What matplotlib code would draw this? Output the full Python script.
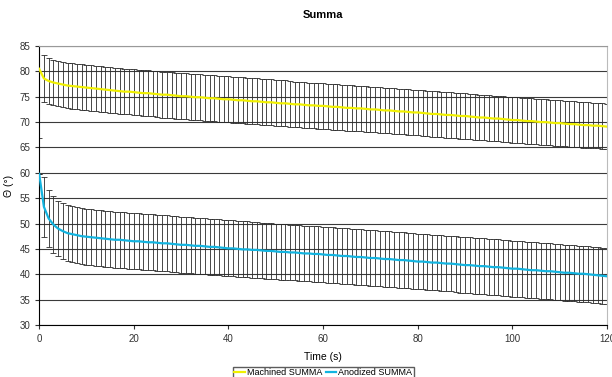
import numpy as np
import matplotlib.pyplot as plt

plt.rcParams['font.family'] = ['Liberation Sans', 'DejaVu Sans']

time_s = list(range(0, 121))

machined = [
    80.5,
    78.6, 78.1, 77.8, 77.6, 77.4, 77.2, 77.1, 77.0, 76.9, 76.8,
    76.7, 76.6, 76.5, 76.4, 76.3, 76.2, 76.1, 76.0, 76.0, 75.9,
    75.8, 75.7, 75.7, 75.6, 75.5, 75.4, 75.4, 75.3, 75.2, 75.1,
    75.1, 75.0, 74.9, 74.9, 74.8, 74.7, 74.7, 74.6, 74.5, 74.5,
    74.4, 74.3, 74.3, 74.2, 74.1, 74.1, 74.0, 73.9, 73.9, 73.8,
    73.7, 73.7, 73.6, 73.5, 73.5, 73.4, 73.3, 73.3, 73.2, 73.2,
    73.1, 73.0, 73.0, 72.9, 72.8, 72.8, 72.7, 72.7, 72.6, 72.5,
    72.5, 72.4, 72.3, 72.3, 72.2, 72.1, 72.1, 72.0, 71.9, 71.9,
    71.8, 71.7, 71.6, 71.6, 71.5, 71.4, 71.4, 71.3, 71.2, 71.2,
    71.1, 71.0, 70.9, 70.9, 70.8, 70.7, 70.7, 70.6, 70.5, 70.4,
    70.4, 70.3, 70.2, 70.2, 70.1, 70.0, 70.0, 69.9, 69.8, 69.8,
    69.7, 69.6, 69.6, 69.5, 69.4, 69.4, 69.3, 69.3, 69.2, 69.1,
]
machined_err = [
    13.7,
    4.6, 4.5, 4.5, 4.5, 4.5, 4.5, 4.5, 4.5, 4.5, 4.5,
    4.5, 4.5, 4.5, 4.5, 4.5, 4.5, 4.5, 4.5, 4.5, 4.5,
    4.5, 4.5, 4.5, 4.5, 4.5, 4.5, 4.5, 4.5, 4.5, 4.5,
    4.5, 4.5, 4.5, 4.5, 4.5, 4.5, 4.5, 4.5, 4.5, 4.5,
    4.5, 4.5, 4.5, 4.5, 4.5, 4.5, 4.5, 4.5, 4.5, 4.5,
    4.5, 4.5, 4.5, 4.5, 4.5, 4.5, 4.5, 4.5, 4.5, 4.5,
    4.5, 4.5, 4.5, 4.5, 4.5, 4.5, 4.5, 4.5, 4.5, 4.5,
    4.5, 4.5, 4.5, 4.5, 4.5, 4.5, 4.5, 4.5, 4.5, 4.5,
    4.5, 4.5, 4.5, 4.5, 4.5, 4.5, 4.5, 4.5, 4.5, 4.5,
    4.5, 4.5, 4.5, 4.5, 4.5, 4.5, 4.5, 4.5, 4.5, 4.5,
    4.5, 4.5, 4.5, 4.5, 4.5, 4.5, 4.5, 4.5, 4.5, 4.5,
    4.5, 4.5, 4.5, 4.5, 4.5, 4.5, 4.5, 4.5, 4.5, 4.5,
]

anodized = [
    59.8,
    53.3, 51.0, 49.8, 49.0, 48.5, 48.1, 47.9, 47.7, 47.5, 47.4,
    47.3, 47.2, 47.1, 47.0, 46.9, 46.8, 46.8, 46.7, 46.6, 46.5,
    46.5, 46.4, 46.3, 46.3, 46.2, 46.1, 46.1, 46.0, 45.9, 45.8,
    45.8, 45.7, 45.6, 45.6, 45.5, 45.4, 45.4, 45.3, 45.2, 45.1,
    45.1, 45.0, 44.9, 44.9, 44.8, 44.8, 44.7, 44.6, 44.6, 44.5,
    44.4, 44.4, 44.3, 44.3, 44.2, 44.1, 44.1, 44.0, 44.0, 43.9,
    43.8, 43.8, 43.7, 43.6, 43.6, 43.5, 43.4, 43.4, 43.3, 43.2,
    43.2, 43.1, 43.0, 43.0, 42.9, 42.8, 42.8, 42.7, 42.6, 42.5,
    42.5, 42.4, 42.3, 42.3, 42.2, 42.1, 42.1, 42.0, 41.9, 41.8,
    41.8, 41.7, 41.6, 41.6, 41.5, 41.4, 41.4, 41.3, 41.2, 41.1,
    41.1, 41.0, 40.9, 40.8, 40.8, 40.7, 40.6, 40.6, 40.5, 40.4,
    40.3, 40.3, 40.2, 40.1, 40.1, 40.0, 39.9, 39.8, 39.7, 39.6,
]
anodized_err = [
    0.0,
    5.9, 5.6, 5.6, 5.5, 5.5, 5.5, 5.5, 5.5, 5.5, 5.5,
    5.5, 5.5, 5.5, 5.5, 5.5, 5.5, 5.5, 5.5, 5.5, 5.5,
    5.5, 5.5, 5.5, 5.5, 5.5, 5.5, 5.5, 5.5, 5.5, 5.5,
    5.5, 5.5, 5.5, 5.5, 5.5, 5.5, 5.5, 5.5, 5.5, 5.5,
    5.5, 5.5, 5.5, 5.5, 5.5, 5.5, 5.5, 5.5, 5.5, 5.5,
    5.5, 5.5, 5.5, 5.5, 5.5, 5.5, 5.5, 5.5, 5.5, 5.5,
    5.5, 5.5, 5.5, 5.5, 5.5, 5.5, 5.5, 5.5, 5.5, 5.5,
    5.5, 5.5, 5.5, 5.5, 5.5, 5.5, 5.5, 5.5, 5.5, 5.5,
    5.5, 5.5, 5.5, 5.5, 5.5, 5.5, 5.5, 5.5, 5.5, 5.5,
    5.5, 5.5, 5.5, 5.5, 5.5, 5.5, 5.5, 5.5, 5.5, 5.5,
    5.5, 5.5, 5.5, 5.5, 5.5, 5.5, 5.5, 5.5, 5.5, 5.5,
    5.5, 5.5, 5.5, 5.5, 5.5, 5.5, 5.5, 5.5, 5.5, 5.5,
]

x_ticks = [0, 20, 40, 60, 80, 100, 120]
y_ticks = [30, 35, 40, 45, 50, 55, 60, 65, 70, 75, 80, 85]

fig = plt.figure(figsize = (6.12, 3.77), dpi = 100)
ax = fig.add_axes([0.064, 0.138, 0.928, 0.740])

# error bars first, lines on top
for values, errs in [(machined, machined_err), (anodized, anodized_err)]:
    ax.errorbar(time_s, values, yerr = errs, fmt = 'none', ecolor = '#2a2a2a',
                elinewidth = 0.6, capsize = 2.0, capthick = 0.6, zorder = 2)

ax.plot(time_s, machined, color = '#f0f000', linewidth = 1.6, label = 'Machined SUMMA', zorder = 3)
ax.plot(time_s, anodized, color = '#12b4e0', linewidth = 1.6, label = 'Anodized SUMMA', zorder = 3)

ax.set_xlim(0, 120)
ax.set_ylim(30, 85)
ax.set_xticks(x_ticks)
ax.set_yticks(y_ticks)
ax.tick_params(labelsize = 7, colors = '#333333', length = 3, width = 0.8)
ax.grid(axis = 'y', color = '#3a3a3a', linewidth = 0.8, zorder = 1)
ax.set_axisbelow(True)

ax.spines['left'].set_color('black')
ax.spines['bottom'].set_color('black')
ax.spines['top'].set_color('#999999')
ax.spines['right'].set_color('#bbbbbb')

ax.set_title('Summa', fontsize = 8, fontweight = 'bold', pad = 20)
ax.set_xlabel('Time (s)', fontsize = 7.5, labelpad = 6)
ax.set_ylabel('Θ (°)', fontsize = 7.5, labelpad = 4)

fig.legend(loc = 'upper center', bbox_to_anchor = (0.528, 0.027), ncol = 2,
           fontsize = 6.5, frameon = True, fancybox = False, edgecolor = '#333333',
           handlelength = 1.2, handletextpad = 0.2, columnspacing = 0.4,
           borderpad = 0.15, borderaxespad = 0.0)

fig.savefig('out.png', dpi = 100)
plt.close(fig)
